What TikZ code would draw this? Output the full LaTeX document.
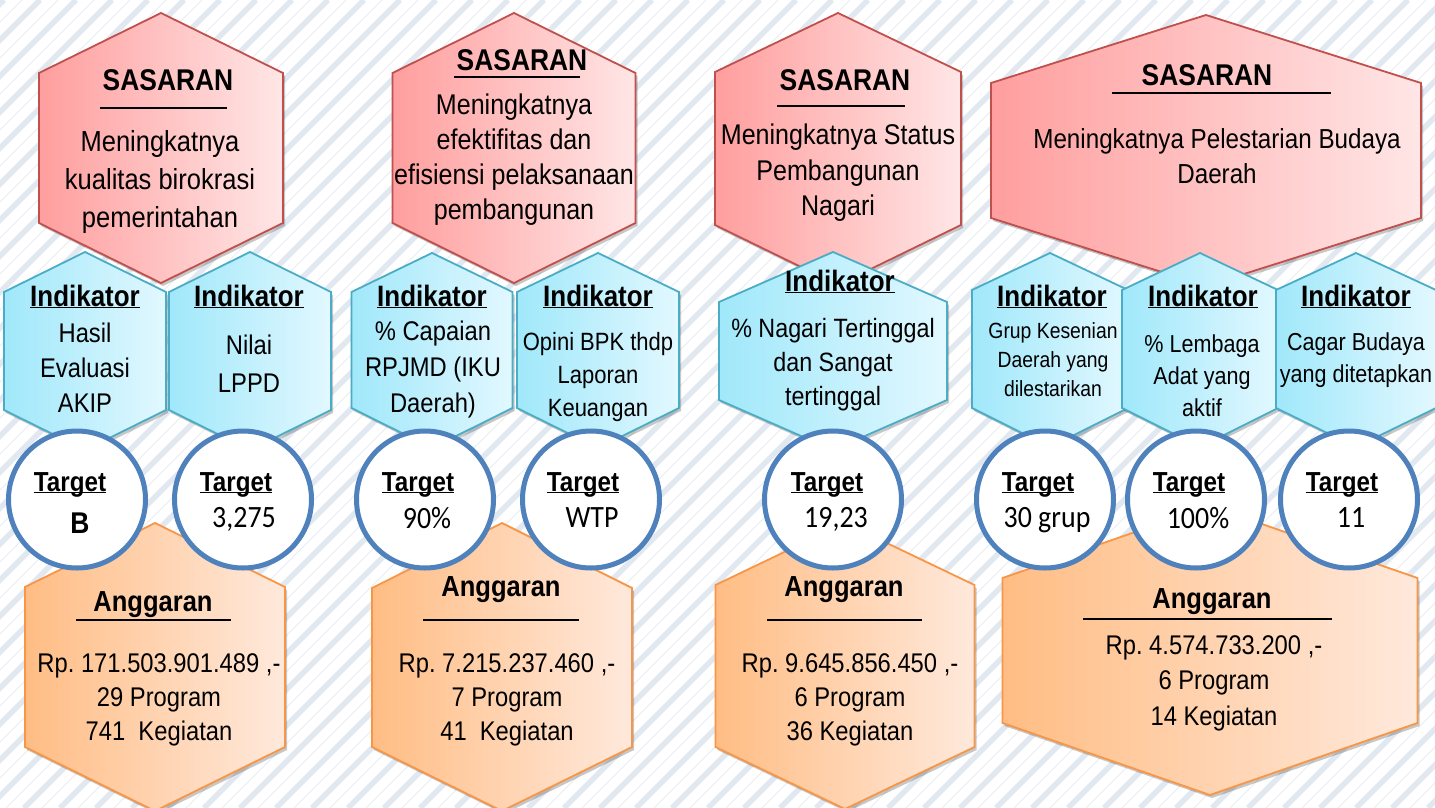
\documentclass[tikz,border=0pt]{standalone}
\usepackage{fontspec}
\setmainfont{Liberation Sans}[FakeStretch=0.88]
\newfontfamily\calfont{Carlito}[FakeStretch=0.9]
\usetikzlibrary{shadows}
\definecolor{stripeA}{RGB}{225,232,240}
\definecolor{stripeB}{RGB}{232,237,243}
\definecolor{redL}{RGB}{255,158,158}
\definecolor{redR}{RGB}{255,230,230}
\definecolor{redB}{RGB}{192,80,77}
\definecolor{bluL}{RGB}{160,232,250}
\definecolor{bluR}{RGB}{226,248,255}
\definecolor{bluB}{RGB}{75,172,198}
\definecolor{orL}{RGB}{255,189,132}
\definecolor{orR}{RGB}{255,233,220}
\definecolor{orB}{RGB}{247,150,70}
\definecolor{tgtB}{RGB}{79,129,189}
\frenchspacing
\newcommand\fs[2]{\fontsize{#1}{#2}\selectfont}
\newcommand\ulx[1]{\underline{\smash{#1}}}
% style, cx, top, corner1, corner2, bottom, halfwidth
\newcommand\hexa[7]{\path[#1] (#2,#3) -- ({#2+#7},#4) -- ({#2+#7},#5) -- (#2,#6) -- ({#2-#7},#5) -- ({#2-#7},#4) -- cycle;}
\begin{document}
\begin{tikzpicture}[x=1pt,y=-1pt,
  thickstripe/.style={line width=5.5pt, draw=stripeA},
  thinstripe/.style={line width=1pt, draw=stripeB},
  shad/.style={drop shadow={shadow xshift=2pt, shadow yshift=-3pt, opacity=0.22, fill=black}},
  sas/.style={shad, draw=redB, line width=1.8pt, left color=redL, right color=redR},
  ind/.style={shad, draw=bluB, line width=1.8pt, left color=bluL, right color=bluR},
  ang/.style={shad, draw=orB, line width=1.8pt, left color=orL, right color=orR},
  tgt/.style={circle, draw=tgtB, line width=5pt, fill=white, minimum size=137pt, inner sep=0pt},
  lbl/.style={align=center, inner sep=0pt, text=black},
  uline/.style={line width=1.6pt, draw=black},
  head/.style={lbl, font=\fs{30}{36}\bfseries},
  indh/.style={lbl, font=\fs{29.5}{34}\bfseries},
  tgth/.style={lbl, font=\fs{27.5}{32}\bfseries},
  tgtv/.style={lbl, font=\fs{31}{34}\calfont},
  angh/.style={lbl, font=\fs{29}{34}\bfseries},
]
\useasboundingbox (0,0) rectangle (1435,808);
\fill[white] (0,0) rectangle (1435,808);
% background stripes
\begin{scope}
\clip (0,0) rectangle (1435,808);
\foreach \k in {-840,-804,...,1440}{
  \draw[thickstripe] (\k,808) -- ({\k+808},0);
  \draw[thinstripe] ({\k+18},808) -- ({\k+826},0);
}
\end{scope}
% SASARAN hexagons
\hexa{sas}{161}{13}{73}{223}{283}{122}
\hexa{sas}{514}{13}{73}{223}{283}{121.5}
\hexa{sas}{838}{13}{72}{225}{285}{123}
\hexa{sas}{1206}{15}{83}{218}{286}{215}
% Indikator hexagons
\hexa{ind}{85}{252}{292}{410}{450}{81}
\hexa{ind}{250}{252}{292}{410}{450}{81}
\hexa{ind}{432}{253}{292}{408}{448}{80.5}
\hexa{ind}{598}{253}{292}{408}{448}{81}
\hexa{ind}{833}{252}{302}{400}{450}{114}
\hexa{ind}{1050}{253}{290}{408}{447}{78}
\hexa{ind}{1200}{253}{290}{408}{447}{78}
\hexa{ind}{1356}{253}{290}{408}{447}{80}
% Anggaran hexagons
\hexa{ang}{155}{523}{587}{747}{811}{130}
\hexa{ang}{502}{523}{588}{747}{811}{130}
\hexa{ang}{845}{523}{585}{747}{809}{129.5}
\hexa{ang}{1210}{506}{578}{723}{795}{207.5}
% Target circles
\node[tgt] (c1) at (77,499.5) {};
\node[tgt] (c2) at (243,499.5) {};
\node[tgt] (c3) at (425,499.5) {};
\node[tgt] (c4) at (591,499.5) {};
\node[tgt] (c5) at (833,499.5) {};
\node[tgt] (c6) at (1045,499.5) {};
\node[tgt] (c7) at (1196,499.5) {};
\node[tgt] (c8) at (1349,499.5) {};
% SASARAN texts
\node[head] (s1h) at (168,80) {SASARAN};
\draw[uline] (100,108) -- (227,108);
\node[lbl, font=\fs{29}{38.5}] (s1b) at (160,182) {Meningkatnya\\kualitas birokrasi\\pemerintahan};
\node[head] (s2h) at (522,60) {SASARAN};
\draw[uline] (454,77) -- (580,77);
\node[lbl, font=\fs{28.5}{35}] (s2b) at (514,160) {Meningkatnya\\efektifitas dan\\efisiensi pelaksanaan\\pembangunan};
\node[head] (s3h) at (845,80) {SASARAN};
\draw[uline] (777,106) -- (905,106);
\node[lbl, font=\fs{28.5}{35.5}] (s3b) at (838,173) {Meningkatnya Status\\Pembangunan\\Nagari};
\node[head] (s4h) at (1207,75) {SASARAN};
\draw[uline] (1112,93) -- (1331,93);
\node[lbl, font=\fs{27.5}{35}] (s4b) at (1217,156) {Meningkatnya Pelestarian Budaya\\Daerah};
% Indikator texts
\node[indh] (i1h) at (85,307) {\ulx{Indikator}};
\node[lbl, font=\fs{27}{35}] (i1b) at (85,368) {Hasil\\Evaluasi\\AKIP};
\node[indh] (i2h) at (249,307) {\ulx{Indikator}};
\node[lbl, font=\fs{27}{38}] (i2b) at (249,364) {Nilai\\LPPD};
\node[indh] (i3h) at (432,307) {\ulx{Indikator}};
\node[lbl, font=\fs{27}{36}] (i3b) at (433,370) {\% Capaian\\RPJMD (IKU\\Daerah)};
\node[indh] (i4h) at (598,307) {\ulx{Indikator}};
\node[lbl, font=\fs{25}{33}] (i4b) at (598,377) {Opini BPK thdp\\Laporan\\Keuangan};
\node[indh] (i5h) at (840,292) {\ulx{Indikator}};
\node[lbl, font=\fs{26.5}{34}] (i5b) at (833,365) {\% Nagari Tertinggal\\dan Sangat\\tertinggal};
\node[indh] (i6h) at (1052,307) {\ulx{Indikator}};
\node[lbl, font=\fs{22}{29}] (i6b) at (1053,360) {Grup Kesenian\\Daerah yang\\dilestarikan};
\node[indh] (i7h) at (1203,307) {\ulx{Indikator}};
\node[lbl, font=\fs{24.5}{32}] (i7b) at (1202,376) {\% Lembaga\\Adat yang\\aktif};
\node[indh] (i8h) at (1356,307) {\ulx{Indikator}};
\node[lbl, font=\fs{24.5}{32}] (i8b) at (1356,360) {Cagar Budaya\\yang ditetapkan};
% Target texts
\node[tgth] (t1h) at (70,492) {\ulx{Target}};
\node[lbl, font=\fs{30}{34}\bfseries] (t1v) at (80,523) {B};
\node[tgth] (t2h) at (236,492) {\ulx{Target}};
\node[tgtv] (t2v) at (244,519) {3,275};
\node[tgth] (t3h) at (418,492) {\ulx{Target}};
\node[tgtv] (t3v) at (427,518) {90\%};
\node[tgth] (t4h) at (583,492) {\ulx{Target}};
\node[tgtv] (t4v) at (592,518) {WTP};
\node[tgth] (t5h) at (827,492) {\ulx{Target}};
\node[tgtv] (t5v) at (836,519) {19,23};
\node[tgth] (t6h) at (1038,492) {\ulx{Target}};
\node[tgtv] (t6v) at (1047,520) {30 grup};
\node[tgth] (t7h) at (1189,492) {\ulx{Target}};
\node[tgtv] (t7v) at (1198,518) {100\%};
\node[tgth] (t8h) at (1342,492) {\ulx{Target}};
\node[tgtv] (t8v) at (1351,518) {11};
% Anggaran texts
\node[angh] (a1h) at (153,605) {Anggaran};
\draw[uline] (76,620) -- (231,620);
\node[lbl, font=\fs{27}{34}] (a1b) at (159,700) {Rp. 171.503.901.489 ,-\\29 Program\\741~ Kegiatan};
\node[angh] (a2h) at (501,590) {Anggaran};
\draw[uline] (423,620) -- (579,620);
\node[lbl, font=\fs{27}{34}] (a2b) at (507,700) {Rp. 7.215.237.460 ,-\\7 Program\\41~ Kegiatan};
\node[angh] (a3h) at (844,590) {Anggaran};
\draw[uline] (767,620) -- (922,620);
\node[lbl, font=\fs{27}{34}] (a3b) at (850,700) {Rp. 9.645.856.450 ,-\\6 Program\\36 Kegiatan};
\node[angh] (a4h) at (1212,602) {Anggaran};
\draw[uline] (1083,619) -- (1332,619);
\node[lbl, font=\fs{27}{35.5}] (a4b) at (1214,683) {Rp. 4.574.733.200 ,-\\6 Program\\14 Kegiatan};
\end{tikzpicture}
\end{document}
